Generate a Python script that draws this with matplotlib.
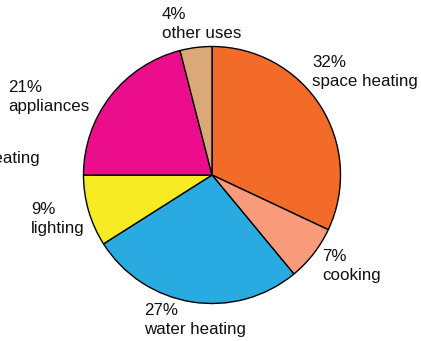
import matplotlib
matplotlib.use("Agg")
import matplotlib.pyplot as plt

# household energy use shares, clockwise from the top
categories = ["space heating", "cooking", "water heating", "lighting", "appliances", "other uses"]
shares = [32, 7, 27, 9, 21, 4]
colors = ["#F26B29", "#F79B7B", "#29ABE2", "#F7EC23", "#EC0D8C", "#DBA978"]

# label anchors in pixels (left, top of the first line)
label_pos = [(312, 55), (322, 249), (144, 303), (31, 202), (8, 80), (162, 7)]

W, H = 421, 341
fig = plt.figure(figsize=(W / 100, H / 100), dpi=100)
plt.rcParams["font.family"] = ["Liberation Sans", "DejaVu Sans"]

cx, cy, r = 212, 175, 128.5
ax = fig.add_axes([(cx - r) / W, (H - cy - r) / H, 2 * r / W, 2 * r / H])
ax.pie(shares, colors=colors, startangle=90, counterclock=False,
       wedgeprops=dict(edgecolor="black", linewidth=1.0))
ax.set_xlim(-1, 1)
ax.set_ylim(-1, 1)
ax.set_aspect("equal")
ax.axis("off")

for name, val, (px, py) in zip(categories, shares, label_pos):
    fig.text(px / W, 1 - py / H, f"{val}%\n{name}", ha="left", va="top",
             fontsize=12.2, linespacing=1.3, color="#111111")

# label from the neighbouring panel, cut off at the edge
fig.text(41 / W, 1 - 151 / H, "heating", ha="right", va="top", fontsize=12.2, color="#111111")

fig.savefig("out.png", dpi=100)
